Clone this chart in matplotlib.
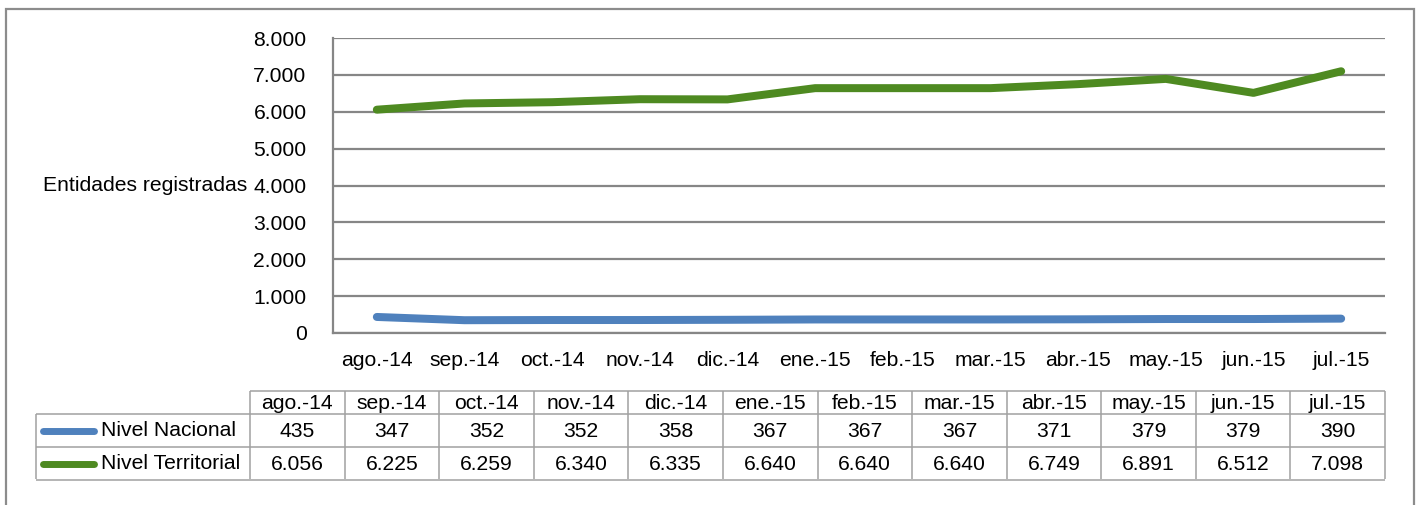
import matplotlib
matplotlib.use("Agg")
import matplotlib.pyplot as plt
from matplotlib.ticker import FuncFormatter, MultipleLocator
from matplotlib.patches import Rectangle
from matplotlib.lines import Line2D

months = ["ago.-14", "sep.-14", "oct.-14", "nov.-14", "dic.-14", "ene.-15",
          "feb.-15", "mar.-15", "abr.-15", "may.-15", "jun.-15", "jul.-15"]
nacional = [435, 347, 352, 352, 358, 367, 367, 367, 371, 379, 379, 390]
territorial = [6056, 6225, 6259, 6340, 6335, 6640, 6640, 6640, 6749, 6891, 6512, 7098]
series_names = ["Nivel Nacional", "Nivel Territorial"]
series_values = [nacional, territorial]
series_colors = ["#4f81bd", "#4e8a21"]
y_label = "Entidades registradas"

W, H = 1418, 505
plt.rcParams['font.family'] = ['Liberation Sans', 'DejaVu Sans']
FS = 15.2
GRID = "#868686"
TBL = "#a0a0a0"

def fmt(v):
    return f"{int(v):,}".replace(",", ".")

fig = plt.figure(figsize=(W / 100, H / 100), dpi=100)

def px_axes(x0, y0, x1, y1):
    return fig.add_axes([x0 / W, 1 - y1 / H, (x1 - x0) / W, (y1 - y0) / H])

# main plot
ax = px_axes(333, 38, 1385, 333)
x = list(range(len(months)))
for vals, col in zip(series_values, series_colors):
    ax.plot(x, vals, color=col, lw=5.75, solid_capstyle="round", zorder=3)
ax.set_xlim(-0.5, len(months) - 0.5)
ax.set_ylim(0, 8000)
ax.yaxis.set_major_locator(MultipleLocator(1000))
ax.yaxis.set_major_formatter(FuncFormatter(lambda v, p: fmt(v)))
ax.grid(axis="y", color=GRID, lw=1.6)
ax.set_axisbelow(True)
for s in ["top", "right"]:
    ax.spines[s].set_visible(False)
ax.spines["left"].set_color(GRID)
ax.spines["left"].set_linewidth(1.6)
ax.spines["bottom"].set_color(GRID)
ax.spines["bottom"].set_linewidth(1.6)
ax.tick_params(axis="y", length=0, pad=19, labelsize=FS)
ax.set_xticks(x)
ax.set_xticklabels(months)
ax.tick_params(axis="x", length=0, pad=13, labelsize=FS)
ax.set_ylabel(y_label, rotation=0, fontsize=FS, ha="right", va="center")
ax.yaxis.set_label_coords(-86 / 1052, 0.5)

# data table
tx0, ty0, tx1, ty1 = 36, 391, 1385, 479
tax = px_axes(tx0, ty0, tx1, ty1)
tax.set_xlim(0, tx1 - tx0)
tax.set_ylim(ty1 - ty0, 0)
tax.axis("off")
label_w = 214
col_w = (tx1 - tx0 - label_w) / len(months)
head_h = 23
row_h = 33
n = len(months)
kw = dict(color=TBL, lw=1.1, solid_capstyle="butt", clip_on=False)
tax.plot([label_w, tx1 - tx0], [0, 0], **kw)
for r in range(len(series_names) + 1):
    yy = head_h + r * row_h
    tax.plot([0, tx1 - tx0], [yy, yy], **kw)
tax.plot([0, 0], [head_h, ty1 - ty0], **kw)
for c in range(n + 1):
    xx = label_w + c * col_w
    tax.plot([xx, xx], [0, ty1 - ty0], **kw)
for c, m in enumerate(months):
    tax.text(label_w + (c + 0.5) * col_w, head_h / 2 + 1, m, ha="center", va="center", fontsize=FS)
for r, (name, vals, col) in enumerate(zip(series_names, series_values, series_colors)):
    yc = head_h + (r + 0.5) * row_h
    tax.add_line(Line2D([7, 58], [yc, yc], color=col, lw=5.0, solid_capstyle="round"))
    tax.text(65, yc, name, ha="left", va="center", fontsize=FS)
    for c, v in enumerate(vals):
        tax.text(label_w + (c + 0.5) * col_w, yc + 1, fmt(v), ha="center", va="center", fontsize=FS)

# outer border
fig.add_artist(Rectangle((5.5 / W, -0.2), (1413.5 - 5.5) / W, 1.2 - 8.5 / H,
                         transform=fig.transFigure, fill=False, edgecolor="#8c8c8c", lw=1.6))

fig.savefig("out.png", dpi=100)
